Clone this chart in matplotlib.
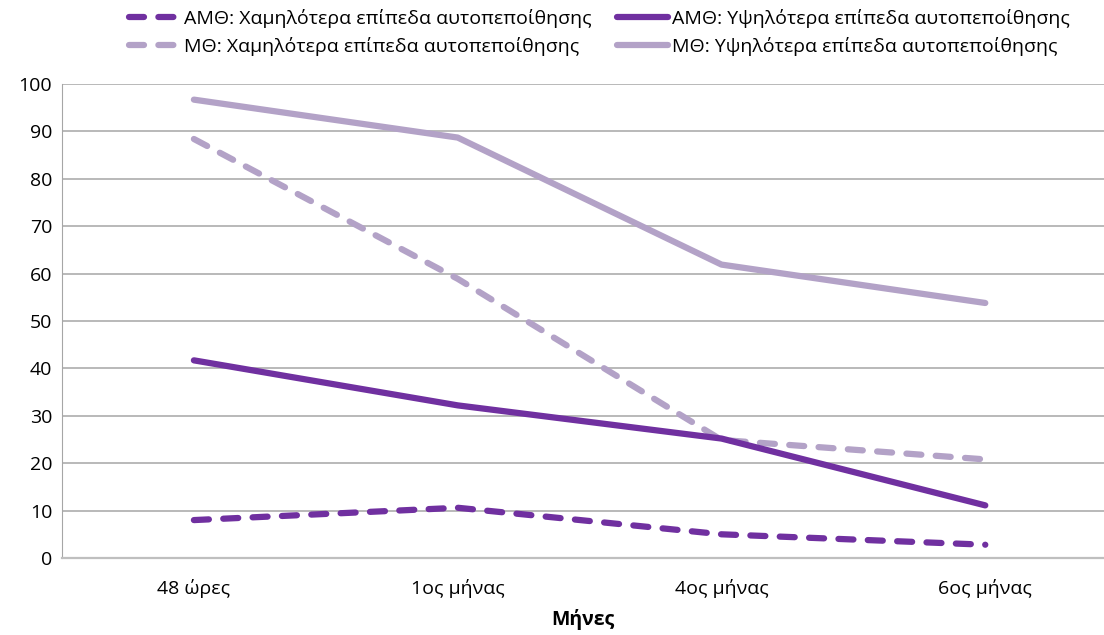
import matplotlib
matplotlib.use("Agg")
import matplotlib.pyplot as plt

plt.rcParams["font.family"] = ["Open Sans", "DejaVu Sans"]

# time points and the four series (%)
periods = ["48 ώρες", "1ος μήνας", "4ος μήνας", "6ος μήνας"]
amth_low = [8.0, 10.6, 5.0, 2.8]
mth_low = [88.4, 58.9, 24.9, 20.8]
amth_high = [41.7, 32.2, 25.2, 11.1]
mth_high = [96.7, 88.7, 61.9, 53.8]

DARK = "#7030A0"
LIGHT = "#B3A2C7"

fig = plt.figure(figsize=(11.04, 6.35), dpi=100)
ax = fig.add_axes([62 / 1104, 1 - 558 / 635, 1042 / 1104, 474 / 635])

x = range(len(periods))
lw = 4.5
dash = (2.4, 2.3)
ax.plot(x, amth_low, color=DARK, lw=lw, dashes=dash, dash_capstyle="round",
        dash_joinstyle="round", label="ΑΜΘ: Χαμηλότερα επίπεδα αυτοπεποίθησης")
ax.plot(x, mth_low, color=LIGHT, lw=lw, dashes=dash, dash_capstyle="round",
        dash_joinstyle="round", label="ΜΘ: Χαμηλότερα επίπεδα αυτοπεποίθησης")
ax.plot(x, amth_high, color=DARK, lw=lw, solid_capstyle="round",
        solid_joinstyle="round", label="ΑΜΘ: Υψηλότερα επίπεδα αυτοπεποίθησης")
ax.plot(x, mth_high, color=LIGHT, lw=lw, solid_capstyle="round",
        solid_joinstyle="round", label="ΜΘ: Υψηλότερα επίπεδα αυτοπεποίθησης")

ax.set_xlim(-0.5, 3.45)
ax.set_ylim(0, 100)
ax.set_yticks(range(0, 101, 10))
ax.set_xticks(list(x))
ax.set_xticklabels(periods)
ax.yaxis.grid(True, color="#A6A6A6", lw=1.1)
ax.set_axisbelow(True)
ax.tick_params(length=0, labelsize=14, colors="black", pad=7)
ax.tick_params(axis="x", pad=15)
for side in ("top", "right"):
    ax.spines[side].set_visible(False)
ax.spines["left"].set_color("#A6A6A6")
ax.spines["bottom"].set_color("#BFBFBF")
ax.spines["bottom"].set_linewidth(1.6)

ax.set_xlabel("Μήνες", fontsize=14, fontweight="bold", labelpad=8)

fig.legend(loc="upper center", bbox_to_anchor=(0.543, 1.013), ncol=2,
           frameon=False, fontsize=14, handlelength=2.6, columnspacing=1.3,
           handletextpad=0.25, labelspacing=0.45)

fig.savefig("out.png", dpi=100)
